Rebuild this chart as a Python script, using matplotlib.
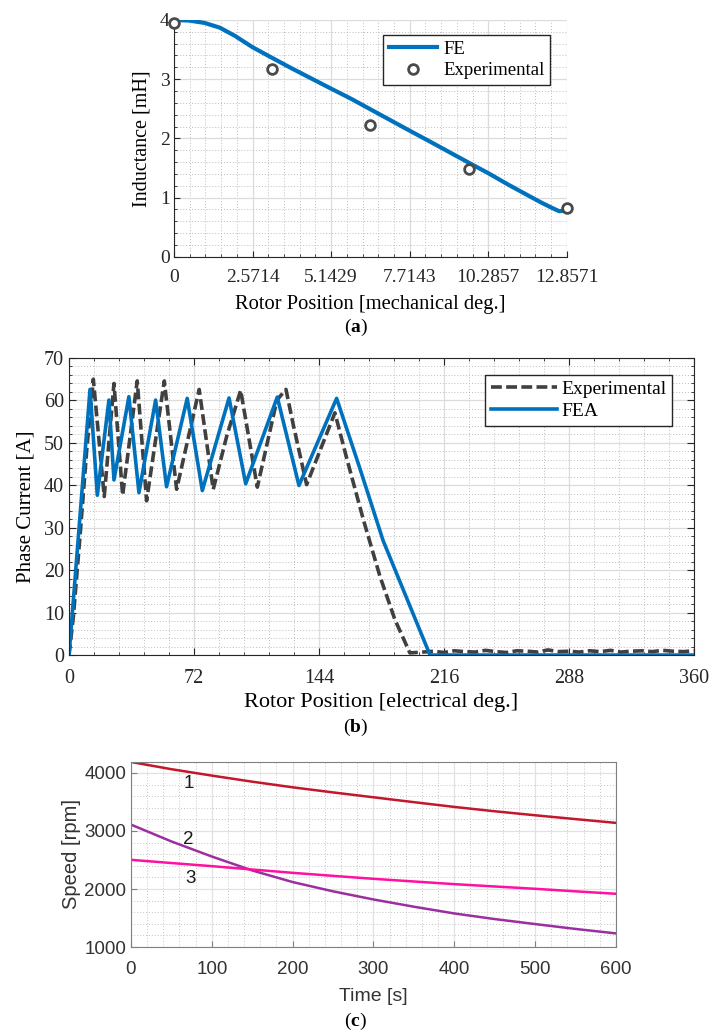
import matplotlib
matplotlib.use("Agg")
import matplotlib.pyplot as plt
from matplotlib.ticker import AutoMinorLocator

plt.rcParams['mathtext.fontset'] = 'custom'
plt.rcParams['mathtext.rm'] = 'Liberation Serif'
plt.rcParams['mathtext.bf'] = 'Liberation Serif:bold'

# ---------- (a) inductance ----------
fe_pos = [0, 0.5, 1.0, 1.5, 2.0, 2.57, 3.21, 3.86, 4.5, 5.14, 5.79, 6.43, 7.07,
          7.71, 8.36, 9.0, 9.64, 10.29, 10.93, 11.57, 12.0, 12.35, 12.6, 12.857]
fe_ind = [4.00, 3.99, 3.95, 3.87, 3.73, 3.54, 3.36, 3.18, 3.01, 2.84, 2.67, 2.49, 2.31,
          2.13, 1.95, 1.77, 1.59, 1.41, 1.22, 1.04, 0.92, 0.83, 0.77, 0.78]
exp_pos = [0, 3.21, 6.43, 9.64, 12.85]
exp_ind = [3.95, 3.17, 2.23, 1.49, 0.83]
a_xticks = [0, 2.5714, 5.1429, 7.7143, 10.2857, 12.8571]
a_xlabels = ['0', '2.5714', '5.1429', '7.7143', '10.2857', '12.8571']

# ---------- (b) phase current ----------
fea_deg = [0, 12.1, 16.3, 23.0, 25.9, 34.5, 40.3, 49.9, 56.2, 68.1, 76.8, 92.2, 101.8,
           120.0, 132.5, 154.2, 167.6, 181.0, 208.0, 360]
fea_cur = [0, 62.5, 37.6, 60.0, 41.2, 60.8, 38.2, 60.0, 39.6, 60.4, 38.7, 60.5, 40.3,
           60.7, 39.9, 60.4, 43.9, 26.9, 0, 0]
exp_deg = [0, 2.5, 6.3, 10.2, 14.0, 20.3, 25.9, 30.9, 39.3, 44.7, 54.9, 62.0, 75.0, 83.1,
           90.8, 98.9, 108.5, 119.8, 125.0, 129.2, 136.9, 153.2, 160.0, 169.5, 179.1,
           187.8, 196.4,
           204, 210, 216, 222, 228, 234, 240, 246, 252, 258, 264, 270, 276, 282, 288,
           294, 300, 306, 312, 318, 324, 330, 336, 342, 348, 354, 360]
exp_cur = [0, 9.0, 27.8, 48.2, 64.9, 37.3, 63.9, 37.6, 64.5, 36.3, 64.5, 39.0, 62.5, 39.0,
           51.4, 62.3, 39.5, 60.0, 62.5, 54.2, 40.1, 57.0, 46.3, 32.0, 18.6,
           8.3, 0.5,
           0.7, 0.9, 0.6, 1.0, 0.8, 0.7, 1.1, 0.8, 0.6, 1.0, 0.9, 0.7, 1.2, 0.8, 0.9,
           0.7, 1.0, 0.8, 1.1, 0.7, 0.9, 1.0, 0.8, 1.1, 0.9, 0.8, 1.0]

# ---------- (c) speed ----------
t_s = [0, 50, 100, 150, 200, 250, 300, 350, 400, 450, 500, 550, 600]
speed1 = [4190, 4065, 3955, 3850, 3753, 3665, 3581, 3497, 3415, 3340, 3271, 3205, 3140]
speed2 = [3110, 2820, 2560, 2320, 2120, 1960, 1820, 1695, 1579, 1482, 1396, 1312, 1235]
speed3 = [2503, 2448, 2394, 2336, 2279, 2227, 2176, 2130, 2084, 2044, 2004, 1960, 1918]
curve_labels = ['1', '2', '3']
label_t = [71, 71, 74]
label_v = [3816, 2853, 2176]

serif = 'Liberation Serif'
sans = 'Liberation Sans'
blue = '#0072BD'

fig = plt.figure(figsize=(7.1, 10.34), dpi=100)


def grid_style(ax, major='#dcdcdc', minor='#bdbdbd'):
    ax.grid(True, which='major', color=major, lw=0.9)
    ax.grid(True, which='minor', color=minor, lw=0.7, ls=(0, (1, 2)))
    ax.set_axisbelow(True)


# ===== panel a =====
ax1 = fig.add_axes([0.245, 0.7517, 0.5535, 0.229])
ax1.plot(fe_pos, fe_ind, color=blue, lw=3, label='FE')
ax1.plot(exp_pos, exp_ind, ls='none', marker='o', ms=7, mfc='white', mec='#4a4a4a',
         mew=2, label='Experimental', clip_on=False, zorder=5)
ax1.set_xlim(0, 12.8571)
ax1.set_ylim(0, 4)
ax1.set_xticks(a_xticks)
ax1.set_xticklabels(a_xlabels)
ax1.set_yticks([0, 1, 2, 3, 4])
ax1.xaxis.set_minor_locator(AutoMinorLocator(5))
ax1.yaxis.set_minor_locator(AutoMinorLocator(5))
grid_style(ax1)
for s in ['top', 'right']:
    ax1.spines[s].set_visible(False)
for s in ['left', 'bottom']:
    ax1.spines[s].set_color('#262626')
ax1.tick_params(which='both', direction='in', labelsize=14, colors='#262626')
ax1.tick_params(which='major', length=4)
ax1.tick_params(which='minor', length=2)
ax1.tick_params(axis='x', pad=9)
ax1.tick_params(axis='y', pad=3)
for lab in ax1.get_xticklabels() + ax1.get_yticklabels():
    lab.set_fontfamily(serif)
ax1.set_xlabel('Rotor Position [mechanical deg.]', family=serif, fontsize=14.8, labelpad=6)
ax1.set_ylabel('Inductance [mH]', family=serif, fontsize=14.5, labelpad=6)
leg1 = ax1.legend(loc='upper right', bbox_to_anchor=(0.957, 0.937), borderaxespad=0,
                  prop={'family': serif, 'size': 13.5},
                  fancybox=False, edgecolor='#262626', framealpha=1, handlelength=2.6,
                  borderpad=0.3, labelspacing=0.25, handletextpad=0.3)
leg1.get_frame().set_linewidth(1)
fig.text(0.501, 0.6835, r'($\mathbf{a}$)', ha='center', va='center', family=serif, fontsize=14)

# ===== panel b =====
ax2 = fig.add_axes([0.0972, 0.3665, 0.880, 0.2877])
ax2.plot(exp_deg, exp_cur, color='#404040', lw=2.6, ls=(0, (3, 1.2)), label='Experimental')
ax2.plot(fea_deg, fea_cur, color=blue, lw=2.6, label='FEA')
ax2.set_xlim(0, 360)
ax2.set_ylim(0, 70)
ax2.set_xticks([0, 72, 144, 216, 288, 360])
ax2.set_yticks(range(0, 71, 10))
ax2.xaxis.set_minor_locator(AutoMinorLocator(5))
ax2.yaxis.set_minor_locator(AutoMinorLocator(5))
grid_style(ax2)
for s in ax2.spines.values():
    s.set_color('#262626')
ax2.tick_params(which='both', direction='in', top=True, right=True, labelsize=14.5,
                colors='#262626')
ax2.tick_params(which='major', length=5)
ax2.tick_params(which='minor', length=2.5)
ax2.tick_params(axis='x', pad=10)
for lab in ax2.get_xticklabels() + ax2.get_yticklabels():
    lab.set_fontfamily(serif)
ax2.set_xlabel('Rotor Position [electrical deg.]', family=serif, fontsize=16, labelpad=4)
ax2.set_ylabel('Phase Current [A]', family=serif, fontsize=15, labelpad=6)
leg2 = ax2.legend(loc='upper right', bbox_to_anchor=(0.965, 0.942), borderaxespad=0,
                  prop={'family': serif, 'size': 14},
                  fancybox=False, edgecolor='#262626', framealpha=1, handlelength=3.4,
                  borderpad=0.3, labelspacing=0.2, handletextpad=0.2)
leg2.get_frame().set_linewidth(1)
fig.text(0.501, 0.296, r'($\mathbf{b}$)', ha='center', va='center', family=serif, fontsize=14)

# ===== panel c =====
ax3 = fig.add_axes([0.1845, 0.0841, 0.683, 0.179])
ax3.plot(t_s, speed1, color='#C3172B', lw=1.8)
ax3.plot(t_s, speed2, color='#9B2F9F', lw=1.8)
ax3.plot(t_s, speed3, color='#FF10A0', lw=1.8)
for lab, tx, ty in zip(curve_labels, label_t, label_v):
    ax3.text(tx, ty, lab, family=sans, fontsize=13.5, color='#1a1a1a', ha='center', va='center')
ax3.set_xlim(0, 600)
ax3.set_ylim(1000, 4190)
ax3.set_xticks(range(0, 601, 100))
ax3.set_yticks([1000, 2000, 3000, 4000])
ax3.xaxis.set_minor_locator(AutoMinorLocator(5))
ax3.yaxis.set_minor_locator(AutoMinorLocator(5))
grid_style(ax3, major='#e2e2e2', minor='#c4c4c4')
for s in ax3.spines.values():
    s.set_color('#808080')
ax3.tick_params(which='both', direction='in', labelsize=13.5, colors='#808080',
                labelcolor='#333333')
ax3.tick_params(which='major', length=4)
ax3.tick_params(which='minor', length=0)
ax3.tick_params(axis='x', pad=10)
for lab in ax3.get_xticklabels() + ax3.get_yticklabels():
    lab.set_fontfamily(sans)
ax3.set_xlabel('Time [s]', family=sans, fontsize=14, color='#333333', labelpad=7)
ax3.set_ylabel('Speed [rpm]', family=sans, fontsize=14.5, color='#333333', labelpad=2)
fig.text(0.5, 0.012, r'($\mathbf{c}$)', ha='center', va='center', family=serif, fontsize=14)

fig.savefig('out.png', dpi=100)
